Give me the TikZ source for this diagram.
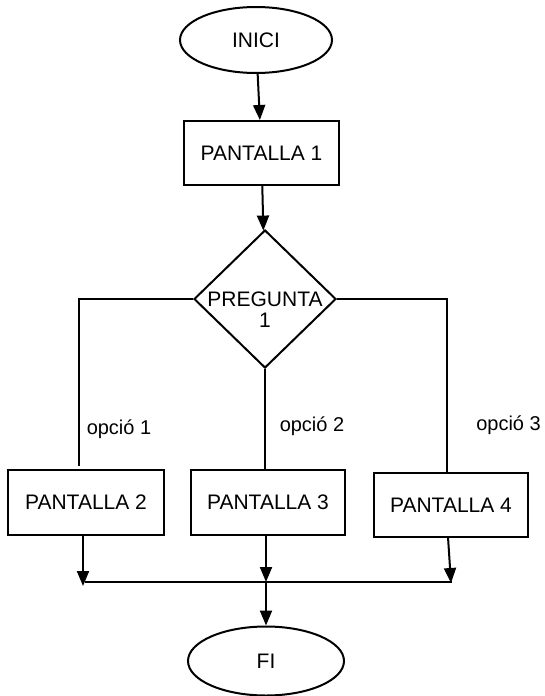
\documentclass[tikz,border=0pt]{standalone}
\usepackage{fontspec}
\setmainfont{Liberation Sans}
\usetikzlibrary{positioning}
\usetikzlibrary{shapes.geometric}
\usetikzlibrary{arrows.meta}

\begin{document}
\begin{tikzpicture}[x=1pt, y=-1pt, line width=2pt,
    arrow/.style={-{Stealth[length=15pt, width=12pt, inset=0pt]}}
    ]
    \useasboundingbox (0,0) rectangle (544,696);
    \begin{scope}[every node/.style={font=\fontsize{21}{21}\selectfont}]
        % start and end
        \node[draw, ellipse, minimum width=152pt, minimum height=66pt] (inici)at (256, 40){INICI};
        \node[draw, ellipse, minimum width=156pt, minimum height=69pt] (fi)at (266, 661){FI};
        % screens
        \node[draw, rectangle, minimum width=155pt, minimum height=64pt] (p1)at (261.5, 153){PANTALLA 1};
        \node[draw, rectangle, minimum width=156pt, minimum height=65pt] (p2)at (86, 502.5){PANTALLA 2};
        \node[draw, rectangle, minimum width=154pt, minimum height=65pt] (p3)at (268, 502.5){PANTALLA 3};
        \node[draw, rectangle, minimum width=154pt, minimum height=64pt] (p4)at (451, 505){PANTALLA 4};
        % question
        \node[draw, diamond, minimum width=142pt, minimum height=138pt] (preg)at (265, 299){};
        \node[align=center] (pregtext)at (265, 310){PREGUNTA\\1};
    \end{scope}
    \begin{scope}[every node/.style={font=\fontsize{20}{20}\selectfont}]
        \node (op1)at (119, 429){opció 1};
        \node (op2)at (312, 426){opció 2};
        \node (op3)at (508.5, 425){opció 3};
    \end{scope}
    % branch ends
    \coordinate (b1) at (79, 466);
    \coordinate (b3) at (265, 470);
    \coordinate (b4) at (446.5, 473);
    % merge line
    \coordinate (ml) at (85, 582);
    \coordinate (mr) at (452, 582);
    \coordinate (m2) at (83, 586);
    \coordinate (m3) at (266, 582);
    \coordinate (m4) at (451, 583);
    \draw[arrow] (inici) -- (p1);
    \draw[arrow] (p1) -- (preg);
    \draw (preg.west) -| (b1);
    \draw (preg.south) -- (b3);
    \draw (preg.east) -| (b4);
    \draw[arrow] (p2.south -| m2) -- (m2);
    \draw[arrow] (p3.south -| m3) -- (m3);
    \draw[arrow] (448, 537) -- (m4);
    \draw (ml) -- (mr);
    \draw[arrow] (m3) -- (fi);
\end{tikzpicture}
\end{document}
